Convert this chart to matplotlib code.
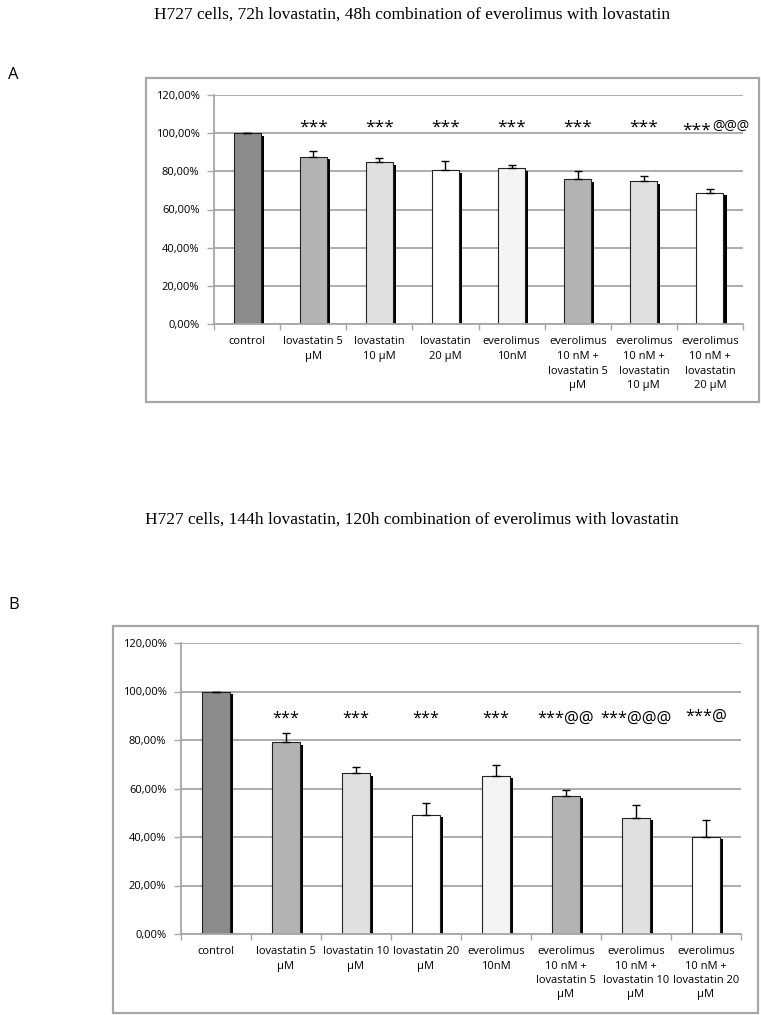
"""Two bar charts: H727 cell viability after lovastatin / everolimus treatment."""

import matplotlib

matplotlib.use("Agg")
import matplotlib.pyplot as plt
import matplotlib.patheffects as pe
from matplotlib.patches import Rectangle
from matplotlib.ticker import FixedLocator, FuncFormatter

W, H = 761, 1015

# Data
labels_a = [
    "control",
    "lovastatin 5\nµM",
    "lovastatin\n10 µM",
    "lovastatin\n20 µM",
    "everolimus\n10nM",
    "everolimus\n10 nM +\nlovastatin 5\nµM",
    "everolimus\n10 nM +\nlovastatin\n10 µM",
    "everolimus\n10 nM +\nlovastatin\n20 µM",
]
labels_b = [
    "control",
    "lovastatin 5\nµM",
    "lovastatin 10\nµM",
    "lovastatin 20\nµM",
    "everolimus\n10nM",
    "everolimus\n10 nM +\nlovastatin 5\nµM",
    "everolimus\n10 nM +\nlovastatin 10\nµM",
    "everolimus\n10 nM +\nlovastatin 20\nµM",
]
values_a = [100.0, 87.7, 84.8, 80.6, 81.5, 75.9, 74.8, 68.7]
errors_a = [0.0, 3.0, 2.3, 4.6, 1.6, 4.4, 2.7, 1.9]
values_b = [100.0, 79.1, 66.3, 49.1, 65.2, 57.1, 48.0, 40.2]
errors_b = [0.0, 3.6, 2.5, 5.0, 4.6, 2.3, 5.0, 6.9]
marks_a = ["", "***", "***", "***", "***", "***", "***", "***"]
sup_a = ["", "", "", "", "", "", "", "@@@"]
marks_b = ["", "***", "***", "***", "***", "***@@", "***@@@", "***@"]
sup_b = [""] * 8
colors = ["#8c8c8c", "#b3b3b3", "#e0e0e0", "#ffffff", "#f4f4f4", "#b3b3b3", "#e0e0e0", "#ffffff"]

title_a = "H727 cells, 72h lovastatin, 48h combination of everolimus with lovastatin"
title_b = "H727 cells, 144h lovastatin, 120h combination of everolimus with lovastatin"

SANS = ["Open Sans", "DejaVu Sans"]
SERIF = ["Liberation Serif", "DejaVu Serif"]
GRID = "#a6a6a6"

fig = plt.figure(figsize=(W / 100, H / 100), dpi=100)


def px_axes(x0, y0, x1, y1):
    return fig.add_axes([x0 / W, 1 - y1 / H, (x1 - x0) / W, (y1 - y0) / H])


def px_box(x0, y0, x1, y1):
    fig.patches.append(
        Rectangle((x0 / W, 1 - y1 / H), (x1 - x0) / W, (y1 - y0) / H,
                  transform=fig.transFigure, fill=False, edgecolor=GRID, lw=1.6)
    )


def draw_panel(ax, labels, values, errors, marks, sups, star_y, linespacing, star_size):
    n = len(values)
    x = list(range(n))
    shadow = [pe.SimplePatchShadow(offset=(2.2, -1.8), shadow_rgbFace="black", alpha=1.0), pe.Normal()]
    bars = ax.bar(x, values, width=0.41, color=colors, edgecolor="#222222", linewidth=0.8, zorder=2)
    for b in bars:
        b.set_path_effects(shadow)
    ax.errorbar(x, values, yerr=[[0] * n, errors], fmt="none", ecolor="black",
                elinewidth=1.0, capsize=3, capthick=1.0, zorder=3)

    ax.set_xlim(-0.5, n - 0.5)
    ax.set_ylim(0, 120)
    ax.set_yticks(range(0, 121, 20))
    ax.yaxis.set_major_formatter(FuncFormatter(lambda v, _: f"{v:.2f}".replace(".", ",") + "%"))
    ax.yaxis.grid(True, color=GRID, lw=1.3)
    ax.set_axisbelow(True)

    ax.set_xticks(x)
    ax.set_xticklabels(labels, fontfamily=SANS, fontsize=8, linespacing=linespacing, va="top")
    ax.xaxis.set_minor_locator(FixedLocator([i - 0.5 for i in range(n + 1)]))
    ax.tick_params(axis="x", which="major", length=0, pad=9)
    ax.tick_params(axis="x", which="minor", length=4, color=GRID, width=1)
    ax.tick_params(axis="y", length=5, color=GRID, width=1, pad=5.5, labelsize=8)
    for lab in ax.get_yticklabels():
        lab.set_fontfamily(SANS)

    for s in ("top", "right"):
        ax.spines[s].set_visible(False)
    for s in ("left", "bottom"):
        ax.spines[s].set_color(GRID)
        ax.spines[s].set_linewidth(1.3)

    for i, (m, sp) in enumerate(zip(marks, sups)):
        if not m:
            continue
        if sp:
            # stars sit a little lower, the "@" signs are raised after them
            ax.text(i + 0.02, star_y[i] - 1.8, m, ha="right", va="center", fontsize=star_size, fontfamily=SANS)
            ax.text(i + 0.04, star_y[i] + 0.6, sp, ha="left", va="center", fontsize=10, fontfamily=SANS)
        else:
            ax.text(i, star_y[i], m, ha="center", va="center", fontsize=star_size, fontfamily=SANS)


# Panel A
fig.text(412 / W, 1 - 15 / H, title_a, ha="center", va="center", fontsize=12.5, fontfamily=SERIF)
fig.text(8 / W, 1 - 75 / H, "A", ha="left", va="center", fontsize=12, fontfamily=SANS)
px_box(146, 78, 759, 402)
ax_a = px_axes(214, 95, 743, 324)
star_a = [0, 103.0, 103.0, 103.0, 103.0, 103.0, 103.0, 103.0]
draw_panel(ax_a, labels_a, values_a, errors_a, marks_a, sup_a, star_a, 1.45, 12.5)

# Panel B
fig.text(412 / W, 1 - 520 / H, title_b, ha="center", va="center", fontsize=12.5, fontfamily=SERIF)
fig.text(8 / W, 1 - 605 / H, "B", ha="left", va="center", fontsize=12, fontfamily=SANS)
px_box(113, 626, 758, 1013)
ax_b = px_axes(181, 643, 741, 934)
star_b = [0, 88.7, 88.7, 88.7, 88.7, 88.7, 88.7, 89.6]
draw_panel(ax_b, labels_b, values_b, errors_b, marks_b, sup_b, star_b, 1.4, 11.8)

fig.savefig("out.png", dpi=100)
